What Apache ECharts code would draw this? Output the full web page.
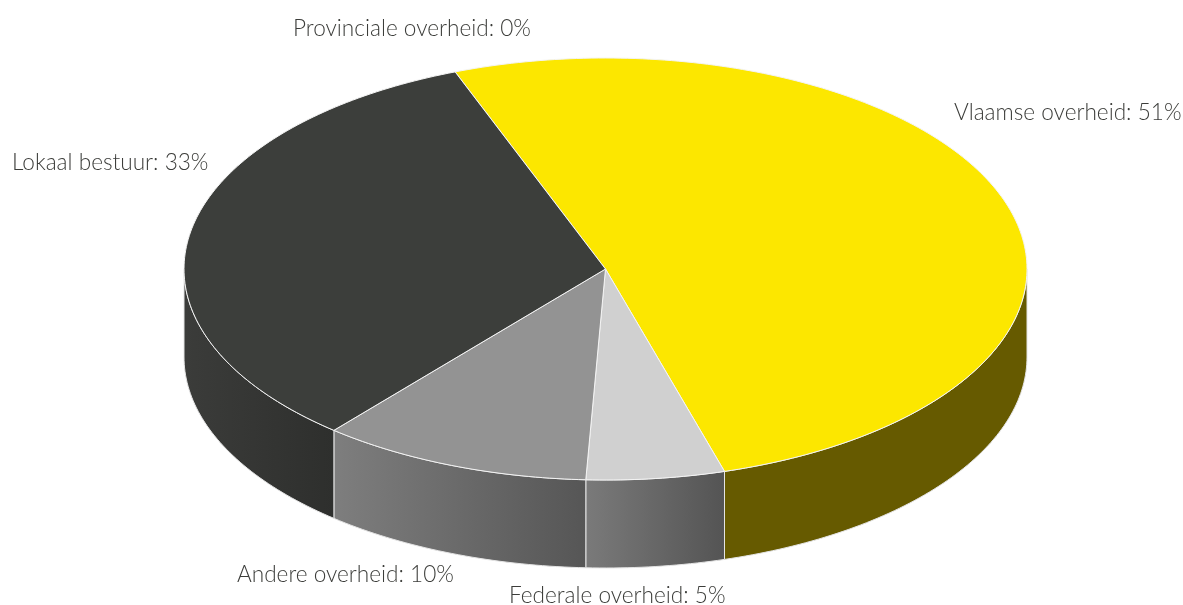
<!DOCTYPE html>
<html><head><meta charset="utf-8">
<style>html,body{margin:0;padding:0;background:#fff}#c{width:1183px;height:605px}</style>
<script src="https://cdn.jsdelivr.net/npm/echarts@6/dist/echarts.min.js"></script>
</head><body><div id="c"></div>
<script>
const categories = ['Vlaamse overheid','Federale overheid','Andere overheid','Lokaal bestuur','Provinciale overheid'];
const values = [51.25,5.3,10.4,33.05,0];
const topColors = ['#fce700','#d0d0d0','#939393','#3c3e3b','#8a8a8a'];
const wallLeft = ['#665a00','#7a7a7a','#7e7e7e','#3b3c3a','#666'];
const wallRight = ['#665a00','#545454','#565656','#2e2f2d','#666'];
const labelX = [954,509,237,12,293];
const labelY = [113,596,575,163,29];

const cx=605.5, cy=269, rx=421.5, ry=211, depth=88, startDeg=-20.9;
const total = values.reduce((a,b)=>a+b,0);
let acc=0;
const ranges = values.map(v=>{const s=startDeg+acc/total*360; acc+=v; return [s,startDeg+acc/total*360];});
const pt=(deg,dy)=>{const a=deg*Math.PI/180; return [cx+rx*Math.sin(a), cy-ry*Math.cos(a)+(dy||0)];};
const arc=(s,e,dy)=>{const n=Math.max(2,Math.ceil((e-s)/1)); const out=[]; for(let i=0;i<=n;i++) out.push(pt(s+(e-s)*i/n,dy)); return out;};

const rows = categories.map((c,i)=>({name:c,value:[i,values[i]]}));
const chart = echarts.init(document.getElementById('c'),null,{renderer:'canvas'});
chart.setOption({
  animation:false,
  backgroundColor:'#fff',
  series:[
  { type:'custom', coordinateSystem:'none', z:1, silent:true, data:rows,
    renderItem(p,api){
      const i=api.value(0); if(api.value(1)===0) return null;
      const s=Math.max(ranges[i][0],90), e=Math.min(ranges[i][1],270);
      if(e<=s) return null;
      const top=arc(s,e,0), bot=arc(s,e,depth).reverse();
      const xs=top.map(q=>q[0]);
      const x0=Math.min(...xs), x1=Math.max(...xs);
      return {type:'polygon',shape:{points:top.concat(bot)},style:{
        fill:new echarts.graphic.LinearGradient(x0,0,x1,0,[{offset:0,color:wallLeft[i]},{offset:1,color:wallRight[i]}],true),
        stroke:'#e4e4e4',lineWidth:1}};
    }},
  { type:'custom', coordinateSystem:'none', z:2, silent:true, data:rows,
    renderItem(p,api){
      const i=api.value(0); if(api.value(1)===0) return null;
      const pts=[[cx,cy]].concat(arc(ranges[i][0],ranges[i][1],0));
      return {type:'polygon',shape:{points:pts},style:{fill:topColors[i],stroke:'#f4f4f4',lineWidth:1}};
    }},
  { type:'custom', coordinateSystem:'none', z:3, silent:true, data:rows,
    renderItem(p,api){
      const i=api.value(0);
      return {type:'text',style:{x:labelX[i],y:labelY[i],text:categories[i]+': '+Math.round(api.value(1))+'%',
        fill:'#3c3d3a',fontFamily:'Lato',fontWeight:300,fontSize:22.6,align:'left',verticalAlign:'middle'}};
    }}
  ]
});
</script></body></html>
